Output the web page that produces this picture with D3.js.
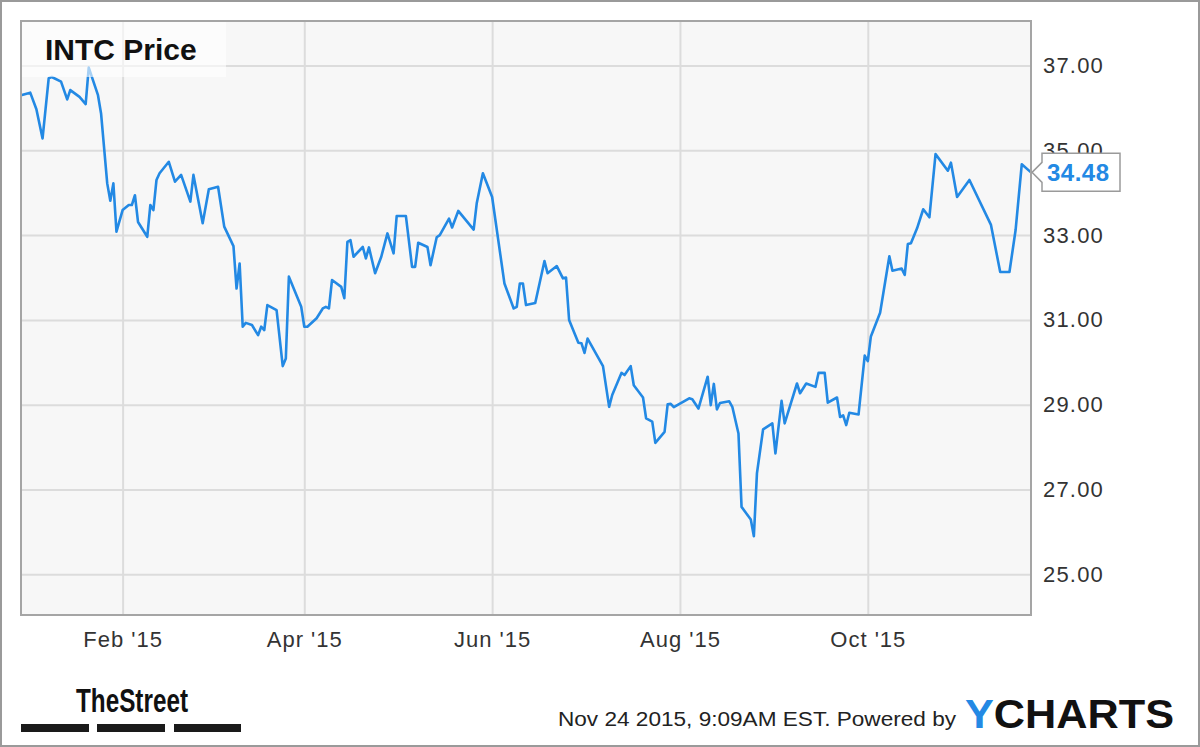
<html>
<head>
<meta charset="utf-8">
<title>INTC Price</title>
<script src="https://d3js.org/d3.v7.min.js"></script>
<style>
  body { margin: 0; background: #fff; }
  svg { display: block; font-family: "Liberation Sans", Arial, sans-serif; }
</style>
</head>
<body>
<div id="chart"></div>
<script>

// daily closes
var dates = ["2014-12-30","2015-01-02","2015-01-04","2015-01-06","2015-01-08","2015-01-09","2015-01-12","2015-01-14","2015-01-15","2015-01-18",
  "2015-01-20","2015-01-21","2015-01-24","2015-01-25","2015-01-27","2015-01-28","2015-01-29","2015-01-30","2015-02-01","2015-02-03",
  "2015-02-04","2015-02-05","2015-02-06","2015-02-09","2015-02-10","2015-02-11","2015-02-12","2015-02-13","2015-02-16","2015-02-18",
  "2015-02-20","2015-02-23","2015-02-24","2015-02-27","2015-03-01","2015-03-04","2015-03-06","2015-03-09","2015-03-10","2015-03-11",
  "2015-03-12","2015-03-13","2015-03-15","2015-03-17","2015-03-18","2015-03-19","2015-03-20","2015-03-23","2015-03-25","2015-03-26",
  "2015-03-27","2015-03-31","2015-04-01","2015-04-02","2015-04-05","2015-04-07","2015-04-08","2015-04-09","2015-04-10","2015-04-13",
  "2015-04-14","2015-04-15","2015-04-16","2015-04-17","2015-04-20","2015-04-21","2015-04-22","2015-04-24","2015-04-26","2015-04-28",
  "2015-04-30","2015-05-01","2015-05-04","2015-05-06","2015-05-07","2015-05-08","2015-05-11","2015-05-12","2015-05-14","2015-05-15",
  "2015-05-18","2015-05-19","2015-05-21","2015-05-26","2015-05-27","2015-05-29","2015-06-01","2015-06-05","2015-06-08","2015-06-09",
  "2015-06-10","2015-06-11","2015-06-12","2015-06-15","2015-06-18","2015-06-19","2015-06-22","2015-06-24","2015-06-25","2015-06-26",
  "2015-06-29","2015-06-30","2015-07-01","2015-07-02","2015-07-07","2015-07-09","2015-07-10","2015-07-13","2015-07-14","2015-07-16",
  "2015-07-17","2015-07-20","2015-07-21","2015-07-23","2015-07-24","2015-07-27","2015-07-28","2015-07-29","2015-07-30","2015-08-04",
  "2015-08-05","2015-08-07","2015-08-10","2015-08-11","2015-08-12","2015-08-13","2015-08-14","2015-08-17","2015-08-18","2015-08-20",
  "2015-08-21","2015-08-24","2015-08-25","2015-08-26","2015-08-28","2015-08-31","2015-09-01","2015-09-03","2015-09-04","2015-09-08",
  "2015-09-09","2015-09-11","2015-09-14","2015-09-15","2015-09-17","2015-09-18","2015-09-21","2015-09-22","2015-09-23","2015-09-24",
  "2015-09-25","2015-09-28","2015-09-30","2015-10-01","2015-10-02","2015-10-05","2015-10-08","2015-10-09","2015-10-12","2015-10-13",
  "2015-10-14","2015-10-15","2015-10-17","2015-10-19","2015-10-21","2015-10-23","2015-10-27","2015-10-28","2015-10-30","2015-11-03",
  "2015-11-10","2015-11-13","2015-11-16","2015-11-18","2015-11-20","2015-11-23"]

var prices = [36.30,36.36,35.97,35.28,36.70,36.73,36.62,36.20,36.42,36.26,
  36.09,36.95,36.30,35.87,34.22,33.81,34.22,33.08,33.59,33.71,
  33.71,33.94,33.31,32.96,33.71,33.59,34.30,34.46,34.73,34.26,
  34.42,33.79,34.42,33.28,34.08,34.14,33.20,32.74,31.74,32.33,
  30.84,30.93,30.88,30.64,30.84,30.76,31.35,31.23,29.91,30.09,
  32.02,31.31,30.84,30.84,31.04,31.27,31.31,31.27,31.94,31.78,
  31.51,32.84,32.88,32.49,32.72,32.45,32.71,32.10,32.49,33.04,
  32.57,33.45,33.45,32.25,32.25,32.82,32.72,32.29,32.95,33.00,
  33.39,33.18,33.57,33.13,33.75,34.46,33.90,31.86,31.27,31.31,
  31.86,31.86,31.35,31.40,32.39,32.10,32.27,31.98,32.00,31.00,
  30.46,30.45,30.22,30.56,29.91,28.95,29.23,29.75,29.70,29.91,
  29.46,29.17,28.68,28.60,28.10,28.36,29.01,29.02,28.94,29.15,
  29.13,28.91,29.66,28.99,29.49,28.89,29.04,29.08,28.95,28.32,
  26.59,26.29,25.90,27.38,28.42,28.56,27.85,29.09,28.56,29.50,
  29.27,29.50,29.42,29.75,29.75,29.05,29.17,28.71,28.75,28.52,
  28.81,28.77,30.16,30.03,30.61,31.17,32.50,32.16,32.21,32.06,
  32.79,32.81,33.16,33.61,33.42,34.91,34.52,34.71,33.90,34.30,
  33.24,32.13,32.13,33.12,34.67,34.48]

var yTicks = [25, 27, 29, 31, 33, 35, 37]
var xTicks = ["2015-02-01","2015-04-01","2015-06-01","2015-08-01","2015-10-01"]

var title = "INTC Price"
var stamp = "Nov 24 2015, 9:09AM EST.  Powered by"

var width = 1200, height = 747
var pLeft = 21, pRight = 1031, pTop = 21, pBottom = 615
var blue = "#2389e4"

var parse = d3.timeParse("%Y-%m-%d")
var data = dates.map(function(d, i){ return { date: parse(d), value: prices[i] } })

var svg = d3.select("#chart").append("svg")
    .attr("width", width)
    .attr("height", height)

// outer frame
svg.append("rect")
    .attr("x", 1).attr("y", 1)
    .attr("width", width - 2).attr("height", height - 2)
    .attr("fill", "#fff")
    .attr("stroke", "#9a9a9a")
    .attr("stroke-width", 2)

var x = d3.scaleTime()
    .domain(d3.extent(data, function(d){ return d.date }))
    .range([pLeft, pRight])

var y = d3.scaleLinear()
    .domain([24.04, 38.05])
    .range([pBottom, pTop])

// plot background
svg.append("rect")
    .attr("x", pLeft).attr("y", pTop)
    .attr("width", pRight - pLeft).attr("height", pBottom - pTop)
    .attr("fill", "#f7f7f7")

// grid
svg.append("g")
    .attr("transform", "translate(0," + pBottom + ")")
    .call(d3.axisBottom(x).tickValues(xTicks.map(parse)).tickSize(-(pBottom - pTop)).tickFormat(""))
    .call(function(g){ g.select(".domain").remove() })
    .selectAll("line").attr("stroke", "#dcdcdc").attr("stroke-width", 2)

svg.append("g")
    .attr("transform", "translate(" + pLeft + ",0)")
    .call(d3.axisRight(y).tickValues(yTicks).tickSize(pRight - pLeft).tickFormat(""))
    .call(function(g){ g.select(".domain").remove() })
    .selectAll("line").attr("stroke", "#dcdcdc").attr("stroke-width", 2)

// price line
var line = d3.line()
    .x(function(d){ return x(d.date) })
    .y(function(d){ return y(d.value) })

svg.append("path")
    .datum(data)
    .attr("d", line)
    .attr("fill", "none")
    .attr("stroke", blue)
    .attr("stroke-width", 2.6)
    .attr("stroke-linejoin", "round")

// plot border
svg.append("rect")
    .attr("x", pLeft).attr("y", pTop)
    .attr("width", pRight - pLeft).attr("height", pBottom - pTop)
    .attr("fill", "none")
    .attr("stroke", "#a5a5a5")
    .attr("stroke-width", 2)

// axes labels
var xAxis = svg.append("g")
    .attr("transform", "translate(0," + pBottom + ")")
    .call(d3.axisBottom(x).tickValues(xTicks.map(parse)).tickSize(0).tickPadding(16)
        .tickFormat(d3.timeFormat("%b '%y")))
xAxis.select(".domain").remove()
xAxis.selectAll("text")
    .attr("fill", "#333")
    .style("font-size", "22px")
    .style("letter-spacing", "1px")
    .style("font-family", "Liberation Sans, Arial, sans-serif")

var yAxis = svg.append("g")
    .attr("transform", "translate(" + pRight + ",0)")
    .call(d3.axisRight(y).tickValues(yTicks).tickSize(0).tickPadding(12)
        .tickFormat(d3.format(".2f")))
yAxis.select(".domain").remove()
yAxis.selectAll("text")
    .attr("fill", "#333")
    .style("font-size", "22px")
    .style("letter-spacing", "1.2px")
    .style("font-family", "Liberation Sans, Arial, sans-serif")

// title box
svg.append("rect")
    .attr("x", pLeft + 1).attr("y", pTop + 1)
    .attr("width", 204).attr("height", 55)
    .attr("fill", "#fff")
    .attr("opacity", 0.6)

svg.append("text")
    .attr("x", 45).attr("y", 60)
    .attr("font-size", 30)
    .attr("font-weight", "bold")
    .attr("fill", "#111")
    .text(title)

// last price tag
var last = data[data.length - 1]
var ty = y(last.value)
var tag = d3.path()
tag.moveTo(pRight + 1, ty)
tag.lineTo(pRight + 11, ty - 10)
tag.lineTo(pRight + 11, ty - 19)
tag.lineTo(pRight + 89, ty - 19)
tag.lineTo(pRight + 89, ty + 19)
tag.lineTo(pRight + 11, ty + 19)
tag.lineTo(pRight + 11, ty + 10)
tag.closePath()

svg.append("path")
    .attr("d", tag.toString())
    .attr("fill", "#fff")
    .attr("stroke", "#9a9a9a")
    .attr("stroke-width", 1.5)

svg.append("text")
    .attr("x", pRight + 16).attr("y", ty)
    .attr("dy", "0.36em")
    .attr("font-size", 24)
    .attr("font-weight", "bold")
    .attr("letter-spacing", 0.5)
    .attr("fill", blue)
    .text(d3.format(".2f")(last.value))

// footer: TheStreet logo
svg.append("text")
    .attr("x", 76).attr("y", 712)
    .attr("font-size", 33)
    .attr("font-weight", "bold")
    .attr("font-family", "Liberation Sans Narrow, Arial Narrow, sans-serif")
    .attr("textLength", 112)
    .attr("lengthAdjust", "spacingAndGlyphs")
    .attr("fill", "#111")
    .text("TheStreet")

svg.selectAll("rect.bar")
    .data([[21, 68], [97, 68], [174, 67]])
    .enter().append("rect")
    .attr("class", "bar")
    .attr("x", function(d){ return d[0] })
    .attr("y", 724)
    .attr("width", function(d){ return d[1] })
    .attr("height", 8)
    .attr("fill", "#1a1a1a")

// footer: timestamp + YCharts
svg.append("text")
    .attr("x", 558).attr("y", 726)
    .attr("font-size", 20)
    .attr("textLength", 398)
    .attr("lengthAdjust", "spacingAndGlyphs")
    .attr("fill", "#222")
    .text(stamp)

var yc = svg.append("text")
    .attr("x", 965).attr("y", 728)
    .attr("font-size", 41)
    .attr("font-weight", "bold")
    .attr("textLength", 209)
    .attr("lengthAdjust", "spacingAndGlyphs")
yc.append("tspan").attr("fill", blue).text("Y")
yc.append("tspan").attr("fill", "#111").text("CHARTS")

</script>
</body>
</html>
